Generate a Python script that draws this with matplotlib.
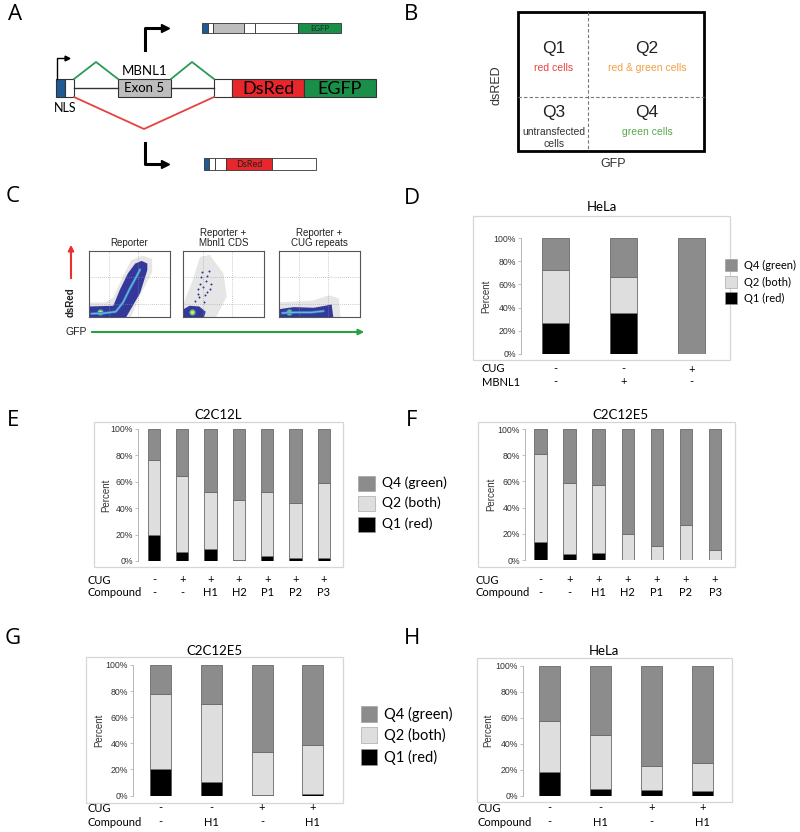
import numpy as np
import matplotlib
matplotlib.use("Agg")
import matplotlib.pyplot as plt
from matplotlib.patches import Rectangle, Polygon
from matplotlib.transforms import blended_transform_factory

W, H = 800, 832
CAL = "Lato"              # Calibri-like text (Excel charts, schematic)
ARI = "Liberation Sans"   # Helvetica/Arial-like text

# ---------------- data (percent of cells per quadrant) ----------------
legend_labels = ["Q4 (green)", "Q2 (both)", "Q1 (red)"]

d_cug = ["-", "-", "+"]
d_mbnl1 = ["-", "+", "-"]
d_q1 = [27.0, 35.5, 0.0]
d_q2 = [45.0, 31.0, 0.0]
d_q4 = [28.0, 33.5, 100.0]

ef_cug = ["-", "+", "+", "+", "+", "+", "+"]
ef_compound = ["-", "-", "H1", "H2", "P1", "P2", "P3"]
e_q1 = [20.0, 7.0, 9.0, 1.0, 4.0, 2.5, 2.5]
e_q2 = [56.5, 57.5, 43.5, 45.0, 48.5, 41.5, 56.5]
e_q4 = [23.5, 35.5, 47.5, 54.0, 47.5, 56.0, 41.0]

f_q1 = [14.0, 4.5, 5.5, 0.0, 0.0, 0.0, 0.0]
f_q2 = [67.0, 54.0, 51.5, 19.5, 10.5, 27.0, 7.5]
f_q4 = [19.0, 41.5, 43.0, 80.5, 89.5, 73.0, 92.5]

gh_cug = ["-", "-", "+", "+"]
gh_compound = ["-", "H1", "-", "H1"]
g_q1 = [20.5, 10.5, 0.5, 1.0]
g_q2 = [57.5, 59.5, 32.5, 38.0]
g_q4 = [22.0, 30.0, 67.0, 61.0]

h_q1 = [18.0, 5.0, 4.5, 3.5]
h_q2 = [39.5, 42.0, 18.5, 22.0]
h_q4 = [42.5, 53.0, 77.0, 74.5]

# flow cytometry density outlines (fractions of each plot)
rep_halo = [(0, 0), (0.52, 0), (0.62, 0.3), (0.78, 0.68), (0.78, 0.88), (0.66, 0.93),
            (0.52, 0.86), (0.42, 0.62), (0.3, 0.3), (0.2, 0.22), (0, 0.22)]
rep_navy = [(0.01, 0), (0.46, 0), (0.63, 0.36), (0.72, 0.71), (0.72, 0.81), (0.65, 0.85),
            (0.57, 0.81), (0.48, 0.66), (0.38, 0.41), (0.3, 0.17), (0.01, 0.16)]
rep_core_x = [0.03, 0.2, 0.33, 0.42, 0.5, 0.58, 0.63]
rep_core_y = [0.05, 0.06, 0.08, 0.22, 0.42, 0.6, 0.72]

mb_halo = [(0.01, 0), (0.41, 0), (0.54, 0.31), (0.5, 0.66), (0.33, 0.94), (0.21, 0.91),
           (0.12, 0.56), (0.04, 0.31), (0.01, 0.21)]
mb_navy = [(0.01, 0), (0.26, 0), (0.28, 0.08), (0.2, 0.16), (0.08, 0.17), (0.01, 0.12)]
mb_dots_x = [0.2, 0.25, 0.28, 0.22, 0.3, 0.18, 0.32, 0.26, 0.35, 0.15, 0.24, 0.3, 0.27, 0.21, 0.33, 0.19]
mb_dots_y = [0.3, 0.45, 0.55, 0.6, 0.38, 0.35, 0.7, 0.22, 0.5, 0.25, 0.68, 0.62, 0.33, 0.5, 0.42, 0.42]

cug_halo = [(0, 0), (0.76, 0), (0.74, 0.28), (0.62, 0.33), (0.42, 0.25), (0, 0.22)]
cug_navy = [(0.01, 0), (0.67, 0), (0.65, 0.19), (0.57, 0.17), (0.43, 0.14), (0.18, 0.15), (0.01, 0.12)]
cug_core_x = [0.04, 0.2, 0.4, 0.55]
cug_core_y = [0.06, 0.07, 0.07, 0.09]

# ---------------- figure ----------------
fig = plt.figure(figsize=(W / 100, H / 100), dpi=100)
ov = fig.add_axes([0, 0, 1, 1])
ov.set_xlim(0, W)
ov.set_ylim(H, 0)
ov.axis("off")
ov.patch.set_alpha(0)
ov.set_zorder(10)


def px_axes(x0, x1, ytop, ybot):
    return fig.add_axes([x0 / W, 1 - ybot / H, (x1 - x0) / W, (ybot - ytop) / H])


def box(x0, x1, y0, y1, fc, lw=0.8):
    ov.add_patch(Rectangle((x0, y0), x1 - x0, y1 - y0, fc=fc, ec="#333333", lw=lw))


# panel letters
for letter, (lx, ly) in {"A": (15, 15), "B": (411, 15), "C": (13, 197), "D": (412, 198),
                         "E": (13, 420), "F": (412, 420), "G": (13, 638), "H": (412, 638)}.items():
    ov.text(lx, ly, letter, fontsize=16, family="Open Sans", ha="center", va="center")

# ---------------- panel A: reporter schematic ----------------
ov.plot([74, 118], [88, 88], color="#333333", lw=1)
ov.plot([171, 214], [88, 88], color="#333333", lw=1)
box(56, 65, 79, 97, "#1f5a94")
box(65, 74, 79, 97, "white")
box(118, 171, 79, 97, "#bdbdbd")
box(214, 232, 79, 97, "white")
box(232, 304, 79, 97, "#e8262b")
box(304, 376, 79, 97, "#1a8f4a")
ov.text(144.5, 88.5, "Exon 5", fontsize=9.5, family=CAL, ha="center", va="center")
ov.text(145, 71, "MBNL1", fontsize=9.5, family=CAL, ha="center", va="center")
ov.text(268, 88.5, "DsRed", fontsize=13, family=CAL, ha="center", va="center")
ov.text(340, 88.5, "EGFP", fontsize=13, family=CAL, ha="center", va="center")
ov.text(65, 108, "NLS", fontsize=9, family=CAL, ha="center", va="center")
ov.plot([74, 96, 118], [79, 62, 79], color="#2a9a55", lw=1.3)
ov.plot([171, 192, 214], [79, 62, 79], color="#2a9a55", lw=1.3)
ov.plot([74, 144, 214], [97, 129, 97], color="#e84040", lw=1.3)
# promoter arrows
ov.plot([57, 57, 65], [79, 58, 58], color="black", lw=1)
ov.plot([67], [58], marker=">", color="black", ms=3.5)
ov.plot([145, 145, 162], [50, 28, 28], color="black", lw=2.2)
ov.plot([165], [28], marker=">", color="black", ms=6)
ov.plot([145, 145, 162], [143, 164, 164], color="black", lw=2.2)
ov.plot([165], [164], marker=">", color="black", ms=6)
# spliced products
for x0, x1, fc in [(202, 208, "#1f5a94"), (208, 213, "white"), (213, 244, "#bdbdbd"),
                   (244, 255, "white"), (255, 298, "white"), (298, 341, "#1a8f4a")]:
    box(x0, x1, 23, 33, fc, lw=0.6)
ov.text(320, 28.5, "EGFP", fontsize=5.5, family=CAL, ha="center", va="center", color="#222222")
for x0, x1, fc in [(204, 209, "#1f5a94"), (209, 215, "white"), (215, 226, "white"),
                   (226, 272, "#e8262b"), (272, 316, "white")]:
    box(x0, x1, 158, 170, fc, lw=0.6)
ov.text(249, 164.5, "DsRed", fontsize=6.5, family=CAL, ha="center", va="center", color="#222222")

# ---------------- panel B: quadrant key ----------------
ov.add_patch(Rectangle((518, 12), 186, 139, fc="none", ec="black", lw=2))
ov.plot([588, 588], [12, 151], color="#777777", lw=0.8, ls=(0, (3, 2)))
ov.plot([518, 704], [97, 97], color="#777777", lw=0.8, ls=(0, (3, 2)))
for tx, ty, q, sub, col in [(554, 48, "Q1", "red cells", "#e8403a"),
                            (647, 48, "Q2", "red & green cells", "#f0a040"),
                            (554, 112, "Q3", "untransfected\ncells", "#333333"),
                            (647, 112, "Q4", "green cells", "#5aaa4a")]:
    ov.text(tx, ty, q, fontsize=12.5, family=ARI, ha="center", va="center", color="#222222")
    ov.text(tx, ty + 15, sub, fontsize=7.5, family=ARI, ha="center", va="top", color=col,
            linespacing=1.25)
ov.text(497, 85, "dsRED", fontsize=9, family=ARI, rotation=90, ha="center", va="center", color="#333333")
ov.text(613, 164, "GFP", fontsize=9, family=ARI, ha="center", va="center", color="#333333")

# ---------------- panel C: flow plots ----------------
flow = [(89, 170, "Reporter", rep_halo, rep_navy, (rep_core_x, rep_core_y), None, (0.14, 0.07)),
        (183, 264, "Reporter +\nMbnl1 CDS", mb_halo, mb_navy, None, (mb_dots_x, mb_dots_y), (0.11, 0.07)),
        (279, 360, "Reporter +\nCUG repeats", cug_halo, cug_navy, (cug_core_x, cug_core_y), None, (0.12, 0.07))]
for x0, x1, title, halo, navy, core, dots, hot in flow:
    ax = px_axes(x0, x1, 251, 317)
    ax.set_xlim(0, 1)
    ax.set_ylim(0, 1)
    ax.set_xticks([])
    ax.set_yticks([])
    for s in ax.spines.values():
        s.set_color("#555555")
        s.set_linewidth(0.8)
    for g in [0.25, 0.6]:
        ax.axvline(g, color="#999999", lw=0.5, ls=(0, (1, 2)))
    for g in [0.2, 0.6]:
        ax.axhline(g, color="#999999", lw=0.5, ls=(0, (1, 2)))
    ax.add_patch(Polygon(halo, closed=True, fc="#e2e2e2", ec="none", alpha=0.85))
    ax.add_patch(Polygon(navy, closed=True, fc="#34389a", ec="none"))
    if core is not None:
        ax.plot(core[0], core[1], color="#4a80cc", lw=1.8, solid_capstyle="round")
        ax.plot(core[0], core[1], color="#5fc8d8", lw=0.7)
    if dots is not None:
        ax.scatter(dots[0], dots[1], s=2, color="#2b2f8f", lw=0)
    ax.scatter([hot[0]], [hot[1]], s=20, color="#4fc0a0", lw=0)
    ax.scatter([hot[0]], [hot[1]], s=6, color="#f0e040", lw=0)
    ax.text(0.5, 1.04, title, transform=ax.transAxes, fontsize=7, family=ARI,
            ha="center", va="bottom", linespacing=1.0, color="#222222")

ov.annotate("", xy=(71, 242), xytext=(71, 281),
            arrowprops=dict(arrowstyle="-|>", color="#e83030", lw=1.5, mutation_scale=8))
ov.text(71, 302, "dsRed", fontsize=7, family=ARI, rotation=90, ha="center", va="center",
        color="#222222", fontweight="bold")
ov.annotate("", xy=(367, 332), xytext=(89, 332),
            arrowprops=dict(arrowstyle="-|>", color="#2aa040", lw=1.5, mutation_scale=8))
ov.text(87, 332, "GFP", fontsize=7.5, family=ARI, ha="right", va="center", color="#222222")


# ---------------- stacked bar panels ----------------
def bar_panel(q1, q2, q4, axis_x, c0, step, wpx, top, bottom, frame, title, title_xy,
              percent_x, rows, row_label_x, row_y, legend=None):
    n = len(q1)
    right = c0 + step * (n - 1) + step * 0.6
    ax = px_axes(axis_x, right, top, bottom)
    x = np.arange(n)
    q1 = np.array(q1)
    q2 = np.array(q2)
    q4 = np.array(q4)
    w = wpx / step
    ax.bar(x, q1, w, color="black", edgecolor="#555555", lw=0.6)
    ax.bar(x, q2, w, bottom=q1, color="#dedede", edgecolor="#6a6a6a", lw=0.6)
    ax.bar(x, q4, w, bottom=q1 + q2, color="#8c8c8c", edgecolor="#6a6a6a", lw=0.6)
    ax.set_xlim((axis_x - c0) / step, (right - c0) / step)
    ax.set_ylim(0, 100)
    ax.set_yticks(range(0, 101, 20))
    ax.set_yticklabels(["%d%%" % v for v in range(0, 101, 20)], family=ARI)
    ax.set_xticks([])
    for side in ["top", "right", "bottom"]:
        ax.spines[side].set_visible(False)
    ax.spines["left"].set_color("#b5b5b5")
    ax.spines["left"].set_linewidth(0.7)
    ax.tick_params(axis="y", length=2, width=0.6, color="#b5b5b5", labelsize=6.3,
                   labelcolor="#333333", pad=1.5)
    ax.patch.set_alpha(0)
    fx0, fx1, fy0, fy1 = frame
    ov.add_patch(Rectangle((fx0, fy0), fx1 - fx0, fy1 - fy0, fc="none", ec="#d6d6d6", lw=0.9))
    ov.text(title_xy[0], title_xy[1], title, fontsize=9.5, family=CAL, ha="center", va="center")
    ov.text(percent_x, (top + bottom) / 2, "Percent", fontsize=7, family=ARI, rotation=90,
            ha="center", va="center", color="#333333")
    tr = blended_transform_factory(ax.transData, ov.transData)
    for (label, vals), ry in zip(rows, row_y):
        ov.text(row_label_x, ry, label, fontsize=8, family=CAL, ha="left", va="center")
        for i, v in enumerate(vals):
            ov.text(i, ry, v, transform=tr, fontsize=8, family=CAL, ha="center", va="center")
    if legend is not None:
        lx, lw_, lh, ys, fs = legend
        colors = ["#8c8c8c", "#dedede", "black"]
        for lab, col, ly in zip(legend_labels, colors, ys):
            ov.add_patch(Rectangle((lx, ly - lh / 2), lw_, lh, fc=col, ec="#999999", lw=0.4))
            ov.text(lx + lw_ + 7, ly, lab, fontsize=fs, family=CAL, ha="left", va="center")
    return ax


bar_panel(d_q1, d_q2, d_q4, 521, 555.5, 68, 27, 238, 354, (473, 730, 216, 360), "HeLa",
          (602, 207), 486, [("CUG", d_cug), ("MBNL1", d_mbnl1)], 482, [369, 382],
          legend=(725, 12, 12, [265, 282, 298], 8))
bar_panel(e_q1, e_q2, e_q4, 138, 154, 28.3, 12.3, 429, 561, (94, 343, 422, 567), "C2C12L",
          (218, 415), 106, [("CUG", ef_cug), ("Compound", ef_compound)], 87, [580, 593],
          legend=(358, 17, 15, [483, 503, 524], 10))
bar_panel(f_q1, f_q2, f_q4, 525, 540.5, 29.1, 12.5, 429, 560, (478, 735, 422, 567), "C2C12E5",
          (620, 415), 491, [("CUG", ef_cug), ("Compound", ef_compound)], 476, [580, 593])
bar_panel(g_q1, g_q2, g_q4, 133, 160.5, 50.8, 21, 665, 795.5, (86, 343, 657, 803), "C2C12E5",
          (214, 651), 99, [("CUG", gh_cug), ("Compound", gh_compound)], 87, [808, 822],
          legend=(361, 16, 16, [714, 735, 757], 10.5))
bar_panel(h_q1, h_q2, h_q4, 523, 549.5, 51, 21, 665.7, 795.7, (477, 732, 658, 802), "HeLa",
          (604, 651), 488, [("CUG", gh_cug), ("Compound", gh_compound)], 478, [808, 822])

fig.savefig("out.png", dpi=100)
